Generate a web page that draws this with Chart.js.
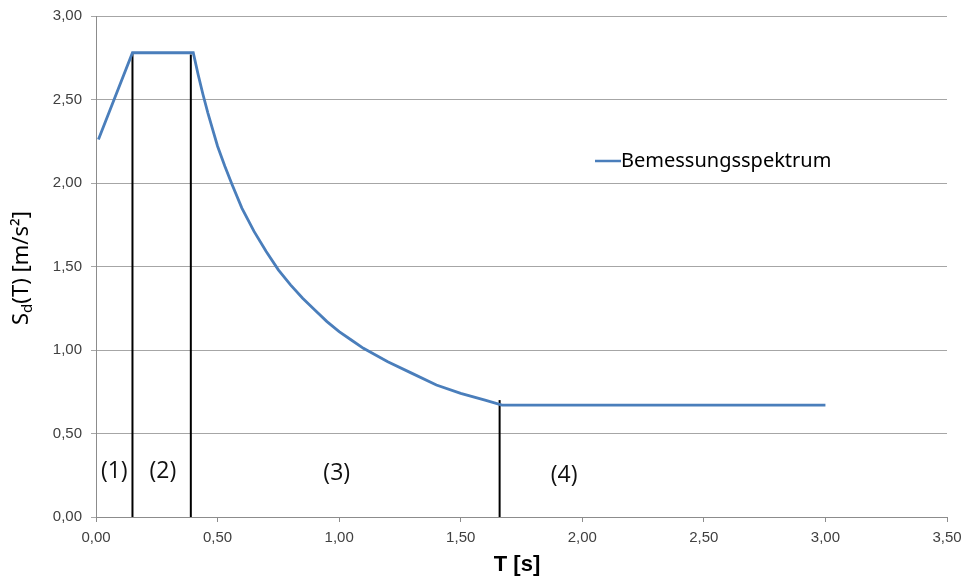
<!DOCTYPE html>
<html>
<head>
<meta charset="utf-8">
<script src="https://cdn.jsdelivr.net/npm/chart.js@4.4.0/dist/chart.umd.min.js"></script>
<style>
  html, body { margin: 0; padding: 0; background: #fff; }
  #wrap { width: 963px; height: 577px; position: relative; }
</style>
</head>
<body>
<div id="wrap"><canvas id="spectrum"></canvas></div>
<script>
// Bemessungsspektrum
const periodT = [0.01, 0.15, 0.40, 0.42, 0.44, 0.46, 0.48, 0.50, 0.53, 0.56, 0.60, 0.65,
                 0.70, 0.75, 0.80, 0.85, 0.90, 0.95, 1.00, 1.05, 1.10, 1.20, 1.30, 1.40,
                 1.50, 1.60, 1.67, 3.00];
const spectrumSd = [2.26, 2.78, 2.78, 2.65, 2.53, 2.42, 2.32, 2.22, 2.10, 1.99, 1.85, 1.71,
                    1.59, 1.48, 1.39, 1.31, 1.24, 1.17, 1.11, 1.06, 1.01, 0.93, 0.86, 0.79,
                    0.74, 0.70, 0.67, 0.67];

// region boundaries (vertical black lines)
const boundaryT = [0.15, 0.39, 1.66];
const boundaryTop = [2.78, 2.77, 0.70];

// region labels
const regionLabels = ['(1)', '(2)', '(3)', '(4)'];
const regionLabelT = [0.075, 0.275, 0.99, 1.925];
const regionLabelSd = [0.27, 0.27, 0.26, 0.25];

const xTicks = [0, 0.5, 1, 1.5, 2, 2.5, 3, 3.5];
const yTicks = [0, 0.5, 1, 1.5, 2, 2.5, 3];

const fmt = v => v.toFixed(2).replace('.', ',');

const curve = periodT.map((t, i) => ({ x: t, y: spectrumSd[i] }));
const boundarySets = boundaryT.map((t, i) => ({
    label: 'b' + i,
    data: [{ x: t, y: 0 }, { x: t, y: boundaryTop[i] }],
    borderColor: '#000',
    borderWidth: 2,
    pointRadius: 0,
    tension: 0
}));

const annotate = {
    id: 'annotate',
    afterDatasetsDraw(chart) {
        const { ctx, scales: { x, y } } = chart;
        ctx.save();
        ctx.fillStyle = '#111';
        ctx.font = '23px "Open Sans", sans-serif';
        ctx.textAlign = 'center';
        ctx.textBaseline = 'middle';
        regionLabels.forEach((txt, i) => {
            ctx.fillText(txt, x.getPixelForValue(regionLabelT[i]), y.getPixelForValue(regionLabelSd[i]));
        });

        // legend
        ctx.strokeStyle = '#4a7ebb';
        ctx.lineWidth = 2.5;
        ctx.beginPath();
        ctx.moveTo(595, 161);
        ctx.lineTo(621, 161);
        ctx.stroke();
        ctx.fillStyle = '#000';
        ctx.textAlign = 'left';
        ctx.font = '20px "Noto Sans", sans-serif';
        ctx.fillText('Bemessungsspektrum', 621, 161);

        // x title
        ctx.textAlign = 'center';
        ctx.font = 'bold 22px "Liberation Sans Narrow", "Liberation Sans", sans-serif';
        ctx.fillText('T [s]', 517, 565);

        // y title with subscript
        ctx.translate(22, 268);
        ctx.rotate(-Math.PI / 2);
        ctx.textAlign = 'left';
        ctx.textBaseline = 'middle';
        const big = '22px "Noto Sans", sans-serif';
        const small = '15px "Noto Sans", sans-serif';
        ctx.font = big;
        const w1 = ctx.measureText('S').width;
        const w3 = ctx.measureText('(T) [m/s²]').width;
        ctx.font = small;
        const w2 = ctx.measureText('d').width;
        let px = -(w1 + w2 + w3) / 2;
        ctx.font = big;
        ctx.fillText('S', px, 0);
        px += w1;
        ctx.font = small;
        ctx.fillText('d', px, 6);
        px += w2;
        ctx.font = big;
        ctx.fillText('(T) [m/s²]', px, 0);
        ctx.restore();
    }
};

new Chart(document.getElementById('spectrum'), {
    type: 'line',
    data: {
        datasets: [
            {
                label: 'Bemessungsspektrum',
                data: curve,
                borderColor: '#4a7ebb',
                borderWidth: 2.8,
                pointRadius: 0,
                tension: 0
            },
            ...boundarySets
        ]
    },
    options: {
        responsive: true,
        maintainAspectRatio: false,
        animation: false,
        layout: { padding: { left: 0, right: 16, top: 16, bottom: 0 } },
        plugins: {
            legend: { display: false },
            tooltip: { enabled: false }
        },
        scales: {
            x: {
                type: 'linear',
                min: 0,
                max: 3.5,
                afterBuildTicks: s => { s.ticks = xTicks.map(v => ({ value: v })); },
                afterFit: s => { s.height = 60; s.paddingRight = 0; s.paddingLeft = 0; },
                grid: { drawOnChartArea: false, drawTicks: true, tickLength: 5, color: '#8c8c8c' },
                border: { color: '#8c8c8c', width: 1 },
                ticks: {
                    color: '#404040',
                    padding: 7,
                    maxRotation: 0,
                    font: { family: '"Liberation Sans", Arial, sans-serif', size: 15 },
                    callback: v => fmt(v)
                }
            },
            y: {
                min: 0,
                max: 3,
                afterBuildTicks: s => { s.ticks = yTicks.map(v => ({ value: v })); },
                afterFit: s => { s.width = 96; s.paddingTop = 0; s.paddingBottom = 0; },
                grid: { drawTicks: true, tickLength: 5, color: '#a6a6a6' },
                border: { color: '#8c8c8c', width: 1 },
                ticks: {
                    color: '#404040',
                    padding: 9,
                    font: { family: '"Liberation Sans", Arial, sans-serif', size: 15 },
                    callback: v => fmt(v)
                }
            }
        }
    },
    plugins: [annotate]
});
</script>
</body>
</html>
